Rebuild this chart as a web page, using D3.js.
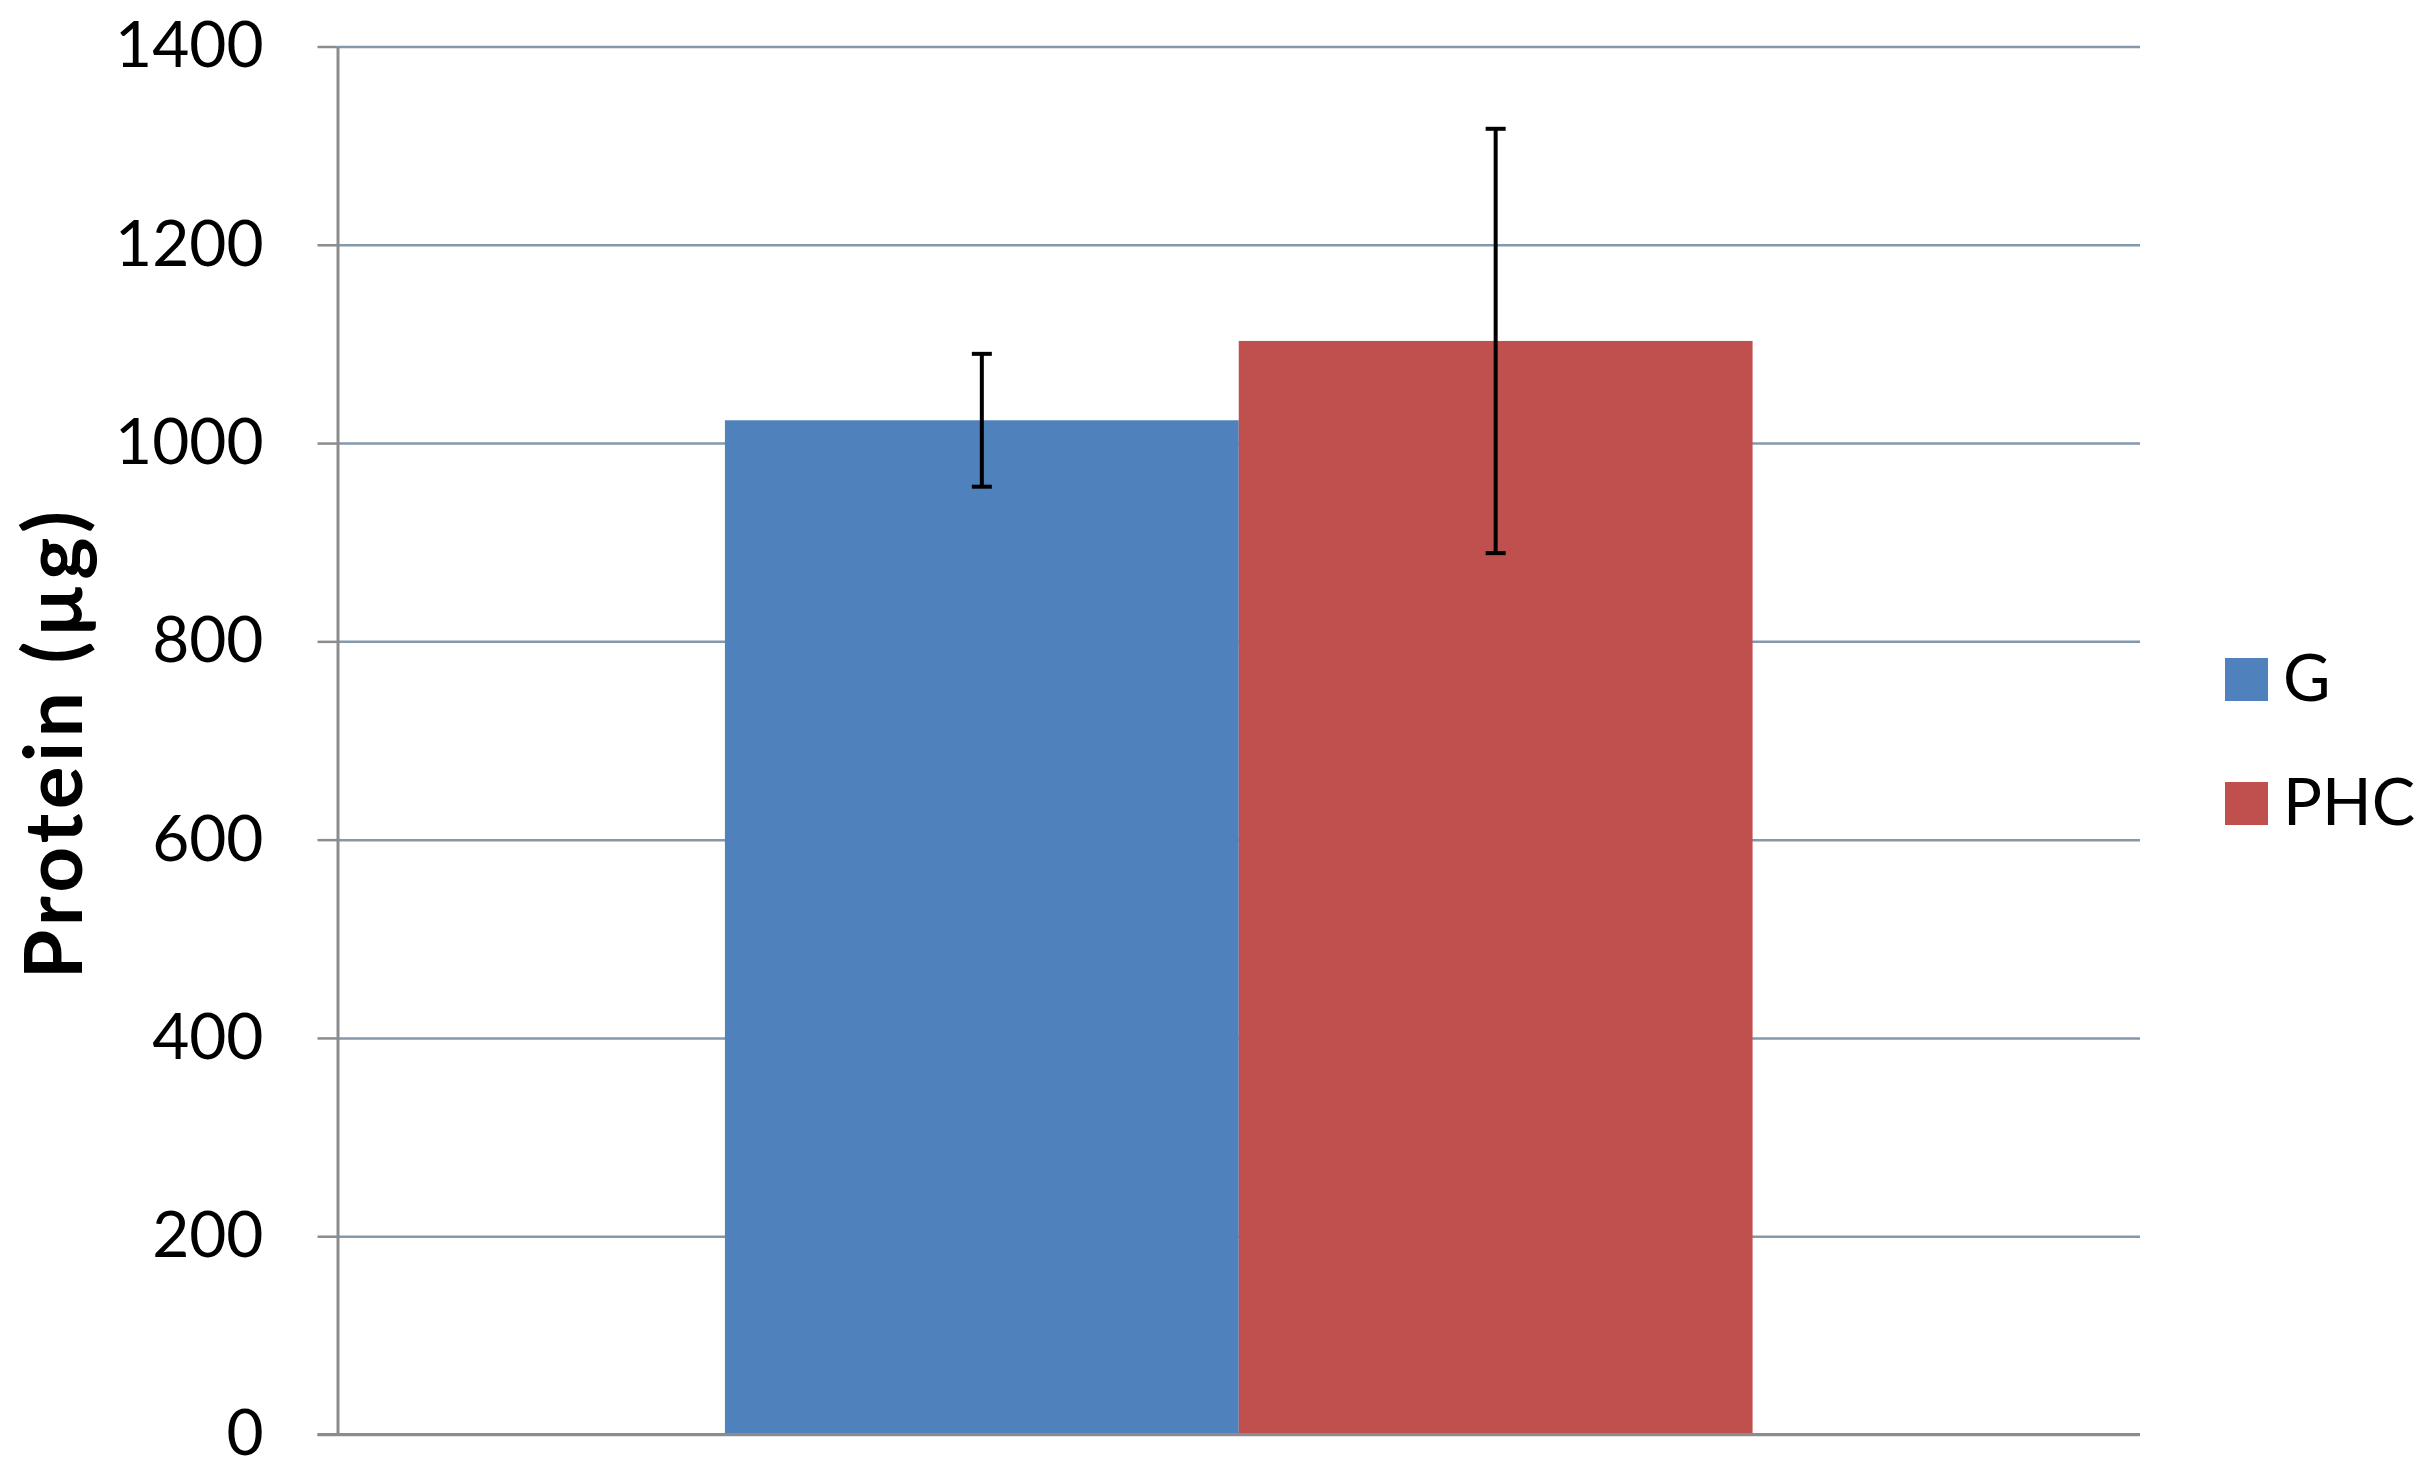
<!DOCTYPE html>
<html>
<head>
<meta charset="utf-8">
<script src="https://cdn.jsdelivr.net/npm/d3@7"></script>
<style>
  body { margin: 0; background: #fff; }
  svg { display: block; font-family: Lato, "Open Sans", sans-serif; }
</style>
</head>
<body>
<div class="displayArea"></div>
<script>
// data
const categories = ["Protein"];
const seriesNames = ["G", "PHC"];
const seriesMeans = [1023, 1103];
const seriesErrors = [67, 214];
const seriesColours = ["#4f81bd", "#c0504d"];
const yTicks = [0, 200, 400, 600, 800, 1000, 1200, 1400];

var width = 2427,
    height = 1480,
    margin = {top: 46.5, right: 287, bottom: 45.5, left: 337.5},
    plotW = width - margin.left - margin.right,
    plotH = height - margin.top - margin.bottom;

var svg = d3.select(".displayArea")
    .append("svg")
    .attr("width", width)
    .attr("height", height);

var g = svg.append("g")
    .attr("transform", `translate(${margin.left},${margin.top})`);

var xScale = d3.scaleBand()
        .domain(categories)
        .range([0, plotW])
        .paddingInner(0)
        .paddingOuter(0.377),
    xSeries = d3.scaleBand()
        .domain(seriesNames)
        .range([0, xScale.bandwidth()])
        .padding(0),
    yScale = d3.scaleLinear()
        .domain([0, 1400])
        .range([plotH, 0]);

// gridlines
g.append("g")
    .attr("class", "grid")
    .call(d3.axisLeft(yScale).tickValues(yTicks).tickSize(-plotW).tickFormat(""))
    .call(s => s.select(".domain").remove())
    .selectAll("line")
    .attr("stroke", "#8398ab")
    .attr("stroke-width", 2.5);

// y axis with ticks and labels
var yAxis = g.append("g")
    .attr("class", "yAxis")
    .call(d3.axisLeft(yScale).tickValues(yTicks).tickFormat(d3.format("d"))
        .tickSize(20).tickPadding(54).tickSizeOuter(0));
yAxis.select(".domain").attr("stroke", "#8c8c8c").attr("stroke-width", 3);
yAxis.selectAll(".tick line").attr("stroke", "#8c8c8c").attr("stroke-width", 2.5);
yAxis.selectAll(".tick text")
    .attr("font-size", 64)
    .attr("font-family", "Lato, sans-serif")
    .attr("fill", "#000");

// bars
var cat = g.selectAll(".cat")
    .data(categories)
    .enter()
    .append("g")
    .attr("transform", d => `translate(${xScale(d)},0)`);

var barData = seriesNames.map((name, i) => ({name: name, value: seriesMeans[i], err: seriesErrors[i], colour: seriesColours[i]}));

cat.selectAll("rect")
    .data(barData)
    .enter()
    .append("rect")
    .attr("x", d => xSeries(d.name))
    .attr("y", d => yScale(d.value))
    .attr("width", xSeries.bandwidth())
    .attr("height", d => yScale(0) - yScale(d.value))
    .attr("fill", d => d.colour);

// x axis baseline
g.append("line")
    .attr("x1", -20)
    .attr("x2", plotW)
    .attr("y1", yScale(0))
    .attr("y2", yScale(0))
    .attr("stroke", "#8c8c8c")
    .attr("stroke-width", 3);

// error bars
var capW = 10;
var err = cat.selectAll(".err")
    .data(barData)
    .enter()
    .append("g")
    .attr("class", "err")
    .attr("stroke", "#000")
    .attr("stroke-width", 4);
err.append("line")
    .attr("x1", d => xSeries(d.name) + xSeries.bandwidth() / 2)
    .attr("x2", d => xSeries(d.name) + xSeries.bandwidth() / 2)
    .attr("y1", d => yScale(d.value + d.err))
    .attr("y2", d => yScale(d.value - d.err));
err.selectAll(".cap")
    .data(d => [d.value + d.err, d.value - d.err].map(v => ({v: v, cx: xSeries(d.name) + xSeries.bandwidth() / 2})))
    .enter()
    .append("line")
    .attr("x1", d => d.cx - capW)
    .attr("x2", d => d.cx + capW)
    .attr("y1", d => yScale(d.v))
    .attr("y2", d => yScale(d.v));

// y axis title
svg.append("text")
    .attr("transform", `translate(82,743) rotate(-90)`)
    .attr("text-anchor", "middle")
    .attr("font-size", 80)
    .attr("font-weight", "bold")
    .attr("letter-spacing", 4.5)
    .attr("fill", "#000")
    .text("Protein (µg)");

// legend
var legend = svg.append("g")
    .attr("transform", "translate(2225,658)");
var item = legend.selectAll("g")
    .data(barData)
    .enter()
    .append("g")
    .attr("transform", (d, i) => `translate(0,${i * 124})`);
item.append("rect")
    .attr("width", 43)
    .attr("height", 43)
    .attr("fill", d => d.colour);
item.append("text")
    .attr("x", 58)
    .attr("y", 43)
    .attr("font-size", 65)
    .attr("fill", "#000")
    .text(d => d.name);
</script>
</body>
</html>
